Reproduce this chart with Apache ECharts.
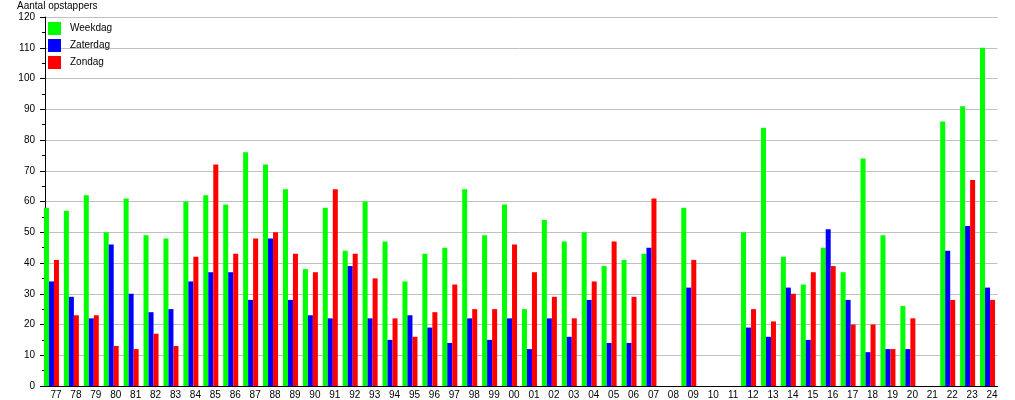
<!DOCTYPE html>
<html>
<head>
<meta charset="utf-8">
<script src="https://cdn.jsdelivr.net/npm/echarts@6/dist/echarts.min.js"></script>
<style>
  html, body { margin: 0; padding: 0; background: #fff; }
  #chart { width: 1015px; height: 400px; }
</style>
</head>
<body>
<div id="chart"></div>
<script>
// jaartallen (categorieën)
const jaren = [
  '77','78','79','80','81','82','83','84','85','86','87','88','89','90','91','92','93','94','95','96','97','98','99',
  '00','01','02','03','04','05','06','07','08','09','10','11','12','13','14','15','16','17','18','19','20','21','22','23','24'
];

const weekdag = [
  58,57,62,50,61,49,48,60,62,59,76,72,64,38,58,44,60,47,34,43,45,64,49,
  59,25,54,47,50,39,41,43,0,58,0,0,50,84,42,33,45,37,74,49,26,0,86,91,110
];
const zaterdag = [
  34,29,22,46,30,24,25,34,37,37,28,48,28,23,22,39,22,15,23,19,14,22,15,
  22,12,22,16,28,14,14,45,0,32,0,0,19,16,32,15,51,28,11,12,12,0,44,52,32
];
const zondag = [
  41,23,23,13,12,17,13,42,72,43,48,50,43,37,64,43,35,22,16,24,33,25,25,
  46,37,29,22,34,47,29,61,0,41,0,0,25,21,30,37,39,20,20,12,22,0,28,67,28
];

const FONT = 'Liberation Sans, Arial, sans-serif';

const chart = echarts.init(document.getElementById('chart'), null, { renderer: 'canvas' });

function bar(name, data, color) {
  return {
    name, type: 'bar', data,
    barWidth: 5,
    barGap: '0%',
    itemStyle: { color },
    emphasis: { disabled: true },
  };
}

chart.setOption({
  backgroundColor: '#ffffff',
  animation: false,
  textStyle: { fontFamily: FONT },
  title: {
    text: 'Aantal opstappers',
    left: 17, top: 1, padding: 0,
    textStyle: { fontSize: 10, fontWeight: 'normal', color: '#000', fontFamily: FONT },
  },
  legend: {
    orient: 'vertical',
    left: 48, top: 22, padding: 0,
    itemWidth: 13, itemHeight: 13, itemGap: 4,
    icon: 'rect',
    textStyle: { fontSize: 10, color: '#000', padding: [0, 0, 0, 4], fontFamily: FONT },
    data: ['Weekdag', 'Zaterdag', 'Zondag'],
  },
  grid: { left: 41.5, right: 17.5, top: 17, bottom: 13, containLabel: false },
  xAxis: {
    type: 'category',
    data: jaren,
    axisLine: { lineStyle: { color: '#000', width: 1 } },
    axisTick: { show: false },
    axisLabel: {
      interval: 0, margin: 4, fontSize: 10, color: '#000',
      padding: [0, 0, 0, 9], fontFamily: FONT,
    },
    splitLine: { show: false },
  },
  yAxis: {
    type: 'value',
    min: 0, max: 120, interval: 10,
    offset: -3.5,
    axisLine: { show: true, lineStyle: { color: '#000', width: 1 } },
    axisTick: { show: true, length: 5, lineStyle: { color: '#000' } },
    minorTick: { show: true, splitNumber: 2, length: 3, lineStyle: { color: '#000' } },
    axisLabel: { margin: 10, fontSize: 10, color: '#000', fontFamily: FONT },
    splitLine: { show: true, lineStyle: { color: '#c0c0c0', width: 1 } },
  },
  series: [
    bar('Weekdag', weekdag, '#00ff00'),
    bar('Zaterdag', zaterdag, '#0000ff'),
    bar('Zondag', zondag, '#ff0000'),
  ],
});
</script>
</body>
</html>
